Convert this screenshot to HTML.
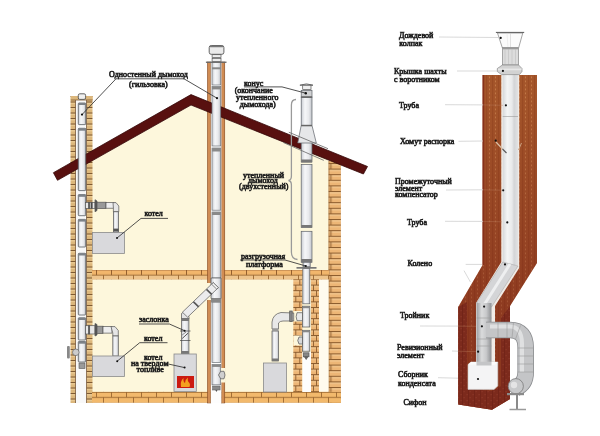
<!DOCTYPE html>
<html><head><meta charset="utf-8">
<style>
html,body{margin:0;padding:0;background:#fff;}
body{width:600px;height:436px;overflow:hidden;}
svg{display:block;filter:blur(0.5px);}
text{font-family:"Liberation Serif",serif;fill:#1e1e1e;stroke:#1e1e1e;stroke-width:0.6;font-size:8px;}
</style></head><body>
<svg width="600" height="436" viewBox="0 0 600 436">
<defs>
  <pattern id="brickV" x="0" y="96" width="22" height="11" patternUnits="userSpaceOnUse">
    <rect width="22" height="11" fill="#dcb77c"/>
    <rect y="1" width="22" height="1.5" fill="#e8c890"/>
    <rect y="6.5" width="22" height="1.5" fill="#e8c890"/>
    <rect y="0" width="22" height="1" fill="#7f5a32"/>
    <rect y="5.5" width="22" height="1" fill="#7f5a32"/>
  </pattern>
  <pattern id="brickW" x="328.4" y="163" width="12.5" height="11.2" patternUnits="userSpaceOnUse">
    <rect width="12.5" height="11.2" fill="#edb676"/>
    <rect y="1" width="12.5" height="1.5" fill="#f4c890"/>
    <rect y="6.6" width="12.5" height="1.5" fill="#f4c890"/>
    <rect y="0" width="12.5" height="1" fill="#8a5a2c"/>
    <rect y="5.6" width="12.5" height="1" fill="#8a5a2c"/>
    <rect x="2.2" y="0" width="0.9" height="5.6" fill="#8a5a2c"/>
    <rect x="0" y="0" width="0.8" height="11.2" fill="#8a5a2c"/>
  </pattern>
  <pattern id="brickC1" x="293.3" y="279" width="9" height="11.2" patternUnits="userSpaceOnUse">
    <rect width="9" height="11.2" fill="#edb676"/>
    <rect y="1" width="9" height="1.5" fill="#f4c890"/>
    <rect y="6.6" width="9" height="1.5" fill="#f4c890"/>
    <rect y="0" width="9" height="1" fill="#8a5a2c"/>
    <rect y="5.6" width="9" height="1" fill="#8a5a2c"/>
    <rect x="6" y="0" width="0.9" height="5.6" fill="#8a5a2c"/>
    <rect x="2" y="5.6" width="0.9" height="5.6" fill="#8a5a2c"/>
  </pattern>
  <pattern id="brickC2" x="311" y="279" width="8" height="11.2" patternUnits="userSpaceOnUse">
    <rect width="8" height="11.2" fill="#edb676"/>
    <rect y="1" width="8" height="1.5" fill="#f4c890"/>
    <rect y="6.6" width="8" height="1.5" fill="#f4c890"/>
    <rect y="0" width="8" height="1" fill="#8a5a2c"/>
    <rect y="5.6" width="8" height="1" fill="#8a5a2c"/>
    <rect x="5" y="0" width="0.9" height="5.6" fill="#8a5a2c"/>
    <rect x="2" y="5.6" width="0.9" height="5.6" fill="#8a5a2c"/>
  </pattern>
  <pattern id="brickH" x="0" y="391.8" width="30" height="11" patternUnits="userSpaceOnUse">
    <rect width="30" height="11" fill="#f2b96c"/>
    <rect y="0" width="30" height="0.9" fill="#9a6630"/>
    <rect y="5.2" width="30" height="0.9" fill="#9a6630"/>
    <rect x="6" y="0" width="0.9" height="5.5" fill="#9a6630"/>
    <rect x="21" y="0" width="0.9" height="5.5" fill="#9a6630"/>
    <rect x="13" y="5.5" width="0.9" height="5.5" fill="#9a6630"/>
    <rect x="28" y="5.5" width="0.9" height="5.5" fill="#9a6630"/>
  </pattern>
  <pattern id="brickH2" x="0" y="270" width="30" height="9.5" patternUnits="userSpaceOnUse">
    <rect width="30" height="9.5" fill="#f2b66c"/>
    <rect y="5" width="30" height="4.5" fill="#eec48c"/>
    <rect y="0" width="30" height="0.7" fill="#c08850"/>
    <rect y="4.6" width="30" height="0.9" fill="#9a6630"/>
    <rect x="6" y="0" width="0.9" height="5" fill="#8a5628"/>
    <rect x="21" y="0" width="0.9" height="5" fill="#8a5628"/>
    <rect x="13" y="5" width="0.9" height="4.5" fill="#9a6630"/>
    <rect x="28" y="5" width="0.9" height="4.5" fill="#9a6630"/>
  </pattern>
  <pattern id="brickR" x="0" y="0" width="6" height="4" patternUnits="userSpaceOnUse">
    <rect width="6" height="4" fill="#a4552a"/>
    <rect x="0" y="0" width="1.2" height="4" fill="#9a4c24"/>
    <rect x="3" y="0.5" width="1" height="1.8" fill="#c27846"/>
  </pattern>
  <pattern id="brickRd" x="0" y="0" width="6" height="6" patternUnits="userSpaceOnUse">
    <rect width="6" height="6" fill="#7c2a1c"/>
    <rect x="0" y="0" width="1" height="6" fill="#722418"/>
    <rect x="1.5" y="1" width="1.2" height="1.2" fill="#8c3828"/>
    <rect x="4.5" y="4" width="1.2" height="1.2" fill="#8c3828"/>
  </pattern>
  <linearGradient id="shadeG" x1="0" y1="90" x2="0" y2="330" gradientUnits="userSpaceOnUse">
    <stop offset="0" stop-color="#6a1010" stop-opacity="0"/>
    <stop offset="1" stop-color="#6a1010" stop-opacity="0.42"/>
  </linearGradient>
  <linearGradient id="pipeG" x1="0" x2="1" y1="0" y2="0">
    <stop offset="0" stop-color="#c9ccd2"/>
    <stop offset="0.35" stop-color="#f6f7f9"/>
    <stop offset="0.7" stop-color="#e8e9ec"/>
    <stop offset="1" stop-color="#bfc2c8"/>
  </linearGradient>
  <linearGradient id="pipeR" x1="0" x2="1" y1="0" y2="0">
    <stop offset="0" stop-color="#d6d8da"/>
    <stop offset="0.3" stop-color="#f4f5f5"/>
    <stop offset="0.6" stop-color="#e9eaeb"/>
    <stop offset="0.75" stop-color="#d4d5d7"/>
    <stop offset="1" stop-color="#e2e3e4"/>
  </linearGradient>
  <linearGradient id="pipeR2" x1="0" x2="1" y1="0" y2="0">
    <stop offset="0" stop-color="#9c9ea1"/>
    <stop offset="0.35" stop-color="#dadbdc"/>
    <stop offset="0.65" stop-color="#c8c9cb"/>
    <stop offset="1" stop-color="#8e9093"/>
  </linearGradient>
</defs>

<!-- ================= LEFT: HOUSE ================= -->
<!-- cream interior -->
<polygon points="92,161 191,105 329,160.2 329,392 92,392" fill="#fdf7dc"/>

<!-- left wall bricks -->
<rect x="70.5" y="96" width="22" height="307" fill="url(#brickV)"/>
<rect x="75.6" y="96" width="11" height="307" fill="#f8f8f8"/>
<rect x="75" y="100" width="0.7" height="303" fill="#6a4a2a"/>
<rect x="86.2" y="100" width="0.7" height="303" fill="#6a4a2a"/>
<rect x="70.8" y="96" width="21.8" height="4" fill="#dcb77c"/>
<rect x="70.8" y="99.6" width="21.8" height="0.8" fill="#7f5a32"/>
<!-- right wall bricks -->
<rect x="328.4" y="161" width="12.5" height="242" fill="url(#brickW)"/>
<!-- lower right: brick columns around insulated pipe -->
<rect x="293.3" y="279" width="9" height="113" fill="url(#brickC1)"/>
<rect x="311" y="279" width="8" height="113" fill="url(#brickC2)"/>
<rect x="319" y="279" width="9.5" height="113" fill="#fffbee"/>

<!-- floors -->
<rect x="92" y="270" width="237" height="9.5" fill="url(#brickH2)"/>
<rect x="92" y="391.8" width="248.9" height="11" fill="url(#brickH)"/>

<!-- middle chimney brown strips -->
<rect x="207.4" y="62" width="3.4" height="341" fill="#c47a40" stroke="#7a4520" stroke-width="0.5"/>
<rect x="221.4" y="62" width="3.4" height="341" fill="#c47a40" stroke="#7a4520" stroke-width="0.5"/>
<rect x="208.4" y="62" width="1.2" height="341" fill="#d89860"/>
<rect x="222.4" y="62" width="1.2" height="341" fill="#d89860"/>
<rect x="210.8" y="62" width="10.6" height="341" fill="#fdfdfd"/>

<!-- roof -->
<polygon points="53.4,172.7 191,94.6 367.5,166.5 363.4,174 191,105 57.5,180.3" fill="#58100f" stroke="#350808" stroke-width="0.8" stroke-linejoin="miter"/>

<!-- left pipe (single wall) segments -->
<g fill="url(#pipeG)" stroke="#555a60" stroke-width="0.8">
  <rect x="78.3" y="103" width="7.4" height="21.6" rx="0.8"/>
  <rect x="78.3" y="128.3" width="7.4" height="62.3" rx="0.8"/>
  <rect x="78.3" y="194.6" width="7.4" height="21.1" rx="0.8"/>
  <rect x="78.3" y="219.4" width="7.4" height="27.6" rx="0.8"/>
  <rect x="78.3" y="253.3" width="7.4" height="61.7" rx="0.8"/>
  <rect x="78.3" y="317.8" width="7.4" height="22.2" rx="0.8"/>
  <rect x="78.3" y="341.5" width="7.4" height="20.5" rx="0.8"/>
</g>
<g fill="#7d8288">
  <rect x="78.3" y="103" width="7.4" height="2"/>
  <rect x="78.3" y="128.3" width="7.4" height="2.4"/>
  <rect x="78.3" y="194.6" width="7.4" height="2.2"/>
  <rect x="78.3" y="219.4" width="7.4" height="2.2"/>
  <rect x="78.3" y="253.3" width="7.4" height="2.2"/>
  <rect x="78.3" y="317.8" width="7.4" height="2.2"/>
  <rect x="78.3" y="341.5" width="7.4" height="2.2"/>
</g>
<rect x="78.3" y="93.8" width="7.3" height="5.6" rx="1.5" fill="#f0f0f0" stroke="#555" stroke-width="0.9"/>
<rect x="79" y="363" width="6" height="5.5" fill="#9a9a9a" stroke="#555" stroke-width="0.6"/>
<!-- revision door on left wall -->
<rect x="67" y="346" width="2.8" height="12.5" fill="#888" rx="1"/>
<circle cx="75.8" cy="352.3" r="3.3" fill="#ccc" stroke="#666" stroke-width="0.7"/>

<!-- upper connection: tee -> corrugated -> elbow -> boiler -->
<g stroke="#555" stroke-width="0.7">
  <rect x="85.5" y="202.4" width="9.5" height="6" fill="#e8e8e8"/>
  <rect x="88.5" y="202.4" width="1.2" height="6" fill="#444"/>
  <rect x="91" y="202.4" width="1.2" height="6" fill="#444"/>
  <polygon points="95,199.7 97,201 97,210.5 95,211.8" fill="#555"/>
  <rect x="97" y="202.2" width="9" height="6.4" fill="#999"/>
  <rect x="106" y="202.6" width="8" height="5.6" fill="#eee"/>
  <polygon points="113,202.6 116,202.6 118.8,206 118.8,211.8 113.4,211.8 113.4,208.2" fill="#e6e6e6"/>
  <rect x="113.4" y="211.8" width="5.2" height="20.5" fill="url(#pipeG)"/>
</g>
<rect x="113.4" y="228.6" width="5.2" height="3" fill="#555"/>
<!-- lower connection -->
<g stroke="#555" stroke-width="0.7">
  <rect x="85.5" y="325.7" width="9.5" height="8.3" fill="#e8e8e8"/>
  <rect x="88.5" y="325.7" width="1.2" height="8.3" fill="#444"/>
  <polygon points="95,323.5 97,324.5 97,335 95,336" fill="#555"/>
  <rect x="97" y="326.2" width="6" height="7.3" fill="#999"/>
  <rect x="103" y="326.6" width="9" height="6.5" fill="#eee"/>
  <polygon points="111,326.6 115,326.6 118.3,330.5 118.3,336 112.8,336 112.8,333" fill="#e6e6e6"/>
  <rect x="112.8" y="336" width="5.5" height="20" fill="url(#pipeG)"/>
</g>

<!-- middle chimney pipe -->
<g fill="url(#pipeG)" stroke="#6d7278" stroke-width="0.7">
  <rect x="212" y="62" width="8.7" height="23" />
  <rect x="212" y="86.6" width="8.7" height="59.4" />
  <rect x="212" y="148" width="8.7" height="62.2" />
  <rect x="212" y="212" width="8.7" height="66" />
  <rect x="212" y="281" width="8.7" height="20" />
  <rect x="212" y="302" width="8.7" height="60.4" />
  <rect x="212" y="364.6" width="8.7" height="20.2" />
</g>
<rect x="221" y="368" width="4.4" height="14.5" fill="#fdf7dc"/>
<path d="M220.7,371.3 L218.5,375 L220.7,378.8 L224,378.8 Q226,375 224,371.3 Z" fill="#cfcfcf" stroke="#555" stroke-width="0.7"/>
<rect x="212" y="364.6" width="8.7" height="2.3" fill="#888"/>
<rect x="212.6" y="386" width="7.5" height="4" fill="#8a8a8a" stroke="#555" stroke-width="0.5"/>
<path d="M215.3,390 L216.4,392 L217.5,390 Z" fill="#555"/>
<rect x="212" y="67.3" width="8.7" height="2" fill="#888"/>
<rect x="212" y="86.6" width="8.7" height="2.8" fill="#888"/>
<rect x="212" y="148" width="8.7" height="3.5" fill="#8a8a8a"/>
<rect x="212" y="212" width="8.7" height="3" fill="#8a8a8a"/>
<rect x="205.9" y="61.6" width="20.6" height="1.3" fill="#666"/>
<rect x="212.1" y="54.7" width="8.9" height="2.9" fill="#eee" stroke="#555" stroke-width="0.7"/>
<rect x="212.1" y="58.6" width="8.9" height="3" fill="#eee" stroke="#555" stroke-width="0.7"/>
<rect x="209.2" y="45.5" width="14.7" height="8.8" rx="2" fill="#ebebeb" stroke="#555" stroke-width="0.9"/>
<rect x="209.6" y="45.7" width="13.9" height="1.6" rx="0.8" fill="#777"/>
<!-- diagonal flue to solid fuel boiler -->
<rect x="206.8" y="283" width="4.6" height="17" fill="#fdf7dc"/>
<g stroke="#555" stroke-width="0.7">
  <polygon points="211,278 221,278 221,298.5 211,298.5" fill="url(#pipeG)"/>
  <polygon points="181.5,318 188.9,318 188.9,354 181.5,354" fill="url(#pipeG)"/>
  <path d="M181.5,318.5 L181.5,313.5 L184,311.8 L189,316.8 L189,318.5 Z" fill="#e4e4e4"/>
  <polygon points="213.2,282.6 218.4,287.6 187.6,317.2 182.4,312.2" fill="#ececed"/>
  <polygon points="213.2,282.6 218.4,287.6 216.8,289.2 211.6,284.2" fill="#f6f6f6"/>
</g>
<g stroke="#555" stroke-width="1.6">
  <line x1="206.5" y1="289.3" x2="211.7" y2="294.3"/>
  <line x1="193.5" y1="301.8" x2="198.7" y2="306.8"/>
</g>
<rect x="181.5" y="318.5" width="7.4" height="2.5" fill="#777"/>
<rect x="211" y="298.5" width="10" height="4" fill="#888"/>
<line x1="180" y1="331" x2="190.5" y2="331" stroke="#444" stroke-width="0.7"/>
<line x1="180" y1="340.5" x2="190.5" y2="340.5" stroke="#444" stroke-width="0.7"/>
<line x1="182.2" y1="338.5" x2="188.2" y2="333" stroke="#444" stroke-width="0.9"/>
<line x1="182.2" y1="335" x2="186" y2="332" stroke="#444" stroke-width="0.6"/>
<rect x="181.5" y="351" width="7.4" height="3" fill="#777"/>

<!-- right insulated pipe -->
<g fill="url(#pipeG)" stroke="#5d6268" stroke-width="0.7">
  <rect x="301.2" y="97" width="10.8" height="28.5" />
  <rect x="301.2" y="141" width="10.8" height="21" />
  <rect x="301.2" y="164.5" width="10.8" height="63" />
  <rect x="301.2" y="231.3" width="10.8" height="31" />
  <rect x="303" y="262.2" width="7.2" height="4.5" />
  <rect x="302.8" y="268.5" width="7" height="35.3" />
</g>
<rect x="301.2" y="90.5" width="10.8" height="7" fill="#cfd0d2" stroke="#5d6268" stroke-width="0.7"/>
<rect x="301.2" y="96.2" width="10.8" height="1.6" fill="#666"/>
<rect x="302.7" y="84.9" width="8.3" height="4.6" fill="#f0f0f0" stroke="#555" stroke-width="0.7"/>
<path d="M299.9,85.2 Q306.4,82.6 313,85.2 Z" fill="#ddd" stroke="#555" stroke-width="0.8"/>
<polygon points="301.2,125.5 312,125.5 316.3,143 297.7,143" fill="#e6e7e9" stroke="#5d6268" stroke-width="0.7"/>
<rect x="301.2" y="124.8" width="10.8" height="1.5" fill="#666"/>
<rect x="301.2" y="159.5" width="10.8" height="3" fill="#777"/>
<rect x="301.2" y="259" width="10.8" height="3.2" fill="#777"/>
<rect x="301.2" y="225" width="10.8" height="2.6" fill="#777"/>
<rect x="296.5" y="267" width="20" height="1.7" fill="#777"/>
<!-- tee for right wall boiler -->
<rect x="293.5" y="311" width="9" height="10.5" fill="#fdf7dc"/>
<rect x="293.5" y="335.5" width="9" height="10" fill="#fdf7dc"/>
<rect x="302.5" y="352" width="8.5" height="40" fill="#fdfdfd"/>
<g stroke="#555" stroke-width="0.7">
  <rect x="302.5" y="306.2" width="7.3" height="20.8" fill="url(#pipeG)"/>
  <path d="M302.5,312.7 L297,312.7 Q295.3,316.7 297,320.7 L302.5,320.7 Z" fill="#e8e8e8"/>
  <rect x="302.5" y="330.3" width="7.3" height="20.9" fill="url(#pipeG)"/>
  <path d="M302.5,337 L299,337 Q296.5,340.5 299,344 L302.5,344 Z" fill="#d8d8d8"/>
  <rect x="303.3" y="352.8" width="5.7" height="4" fill="#888"/>
  <path d="M304.5,356.8 L306.2,359.5 L307.8,356.8 Z" fill="#666"/>
</g>
<rect x="302.5" y="306.2" width="7.3" height="2" fill="#888"/>
<rect x="302.5" y="330.3" width="7.3" height="2" fill="#888"/>
<!-- elbow from wall boiler -->
<g stroke="#555" stroke-width="0.7">
  <path d="M293.7,313 L281,312.5 Q273,314 272,322 L272,329 L278.5,329 L278.5,323 Q280,321 283,321 L293.7,321 Z" fill="#e8e8e8"/>
  <rect x="272" y="331" width="6.5" height="30" fill="url(#pipeG)"/>
  <rect x="289.7" y="311" width="2.5" height="10.5" fill="#888"/>
</g>
<rect x="272" y="328.7" width="6.5" height="2.5" fill="#999"/>
<rect x="272" y="358.5" width="6.5" height="2.5" fill="#777"/>
<!-- bracket line -->
<path d="M296,99.5 Q291.4,99.5 291.4,105 L291.4,176 Q291.4,180 288.5,180.5 Q291.4,181 291.4,185 L291.4,252 Q291.4,259 297.5,259.5" fill="none" stroke="#9a9a9a" stroke-width="1.3"/>

<!-- roof flashing lines near right pipe -->
<line x1="288.8" y1="132.2" x2="328" y2="148.7" stroke="#666" stroke-width="0.8"/>
<line x1="283.3" y1="142.5" x2="323.8" y2="160.4" stroke="#666" stroke-width="0.8"/>

<!-- boilers -->
<rect x="92.5" y="232.4" width="32" height="21" fill="#d9d9dc" stroke="#8a8a8a" stroke-width="0.8"/>
<rect x="92.5" y="356" width="32" height="20.5" fill="#d9d9dc" stroke="#8a8a8a" stroke-width="0.8"/>
<rect x="174" y="354" width="22.3" height="37.5" fill="#d9d9dc" stroke="#8a8a8a" stroke-width="0.8"/>
<rect x="177" y="376" width="17" height="12" fill="#cc1a10"/>
<path d="M181,387 Q180,381 183.5,378 Q183,382 185,383 Q185.5,379 188,377.5 Q187,381 189.5,383 Q190.5,385 189.5,387 Z" fill="#f4a020"/>
<rect x="263.4" y="363" width="23" height="29" fill="#d9d9dc" stroke="#8a8a8a" stroke-width="0.8"/>

<!-- leader lines (left) -->
<g stroke="#333" stroke-width="0.85" fill="none">
  <polyline points="82,114.6 116,78.8 184,78.8 217,98.2"/>
  <polyline points="244,86.9 282,86.9 305.8,93.2"/>
  <polyline points="240,260 285,260 305.8,266"/>
  <polyline points="168,218.4 141,218.4 117,238"/>
  <polyline points="139,324 169.4,324 184.6,330.7"/>
  <polyline points="167.5,342.7 139.7,342.7 117.2,361.2"/>
  <polyline points="166,363.5 184.6,367.6"/>
</g>
<g fill="#111">
  <circle cx="82" cy="114.6" r="1.1"/>
  <circle cx="217" cy="98.2" r="1.1"/>
  <circle cx="305.8" cy="93.2" r="1.2"/>
  <circle cx="305.8" cy="266" r="1.1"/>
  <circle cx="117" cy="238" r="1"/>
  <circle cx="184.6" cy="330.7" r="1"/>
  <circle cx="117.2" cy="361.2" r="1"/>
  <circle cx="184.6" cy="367.6" r="1"/>
</g>

<!-- ================= RIGHT: CHIMNEY SHAFT ================= -->
<polygon points="482.6,75 537,75 537,263 510,306 510,399 492,409.7 458.2,404.4 458.2,307 482.6,265" fill="url(#brickR)"/>
<polygon points="482.6,75 537,75 537,263 510,306 510,399 492,409.7 458.2,404.4 458.2,307 482.6,265" fill="url(#shadeG)"/>
<!-- lower front faces (darker) -->
<polygon points="458.2,307 467,302 467,388 491.4,391 501,386 501,318 510,306 510,399 492,409.7 458.2,404.4" fill="url(#brickRd)"/>
<rect x="482.6" y="75" width="1.6" height="190" fill="#86301a"/>
<!-- inner channel -->
<polygon points="501.3,75 519.2,75 519.2,268 495,306 495,362 476,362 476,303 501.3,262" fill="#f0ebe6"/>
<!-- pipe -->
<rect x="502.7" y="64" width="15.3" height="201" fill="url(#pipeR)"/>
<polygon points="502.7,262 518,266 491.5,307 476.5,303" fill="#d4d5d7" stroke="#a0a0a0" stroke-width="0.5"/>
<line x1="510" y1="264" x2="484" y2="305" stroke="#eeeff0" stroke-width="3"/>
<rect x="476.5" y="303" width="15" height="63" fill="url(#pipeR2)"/>
<g stroke="#9a9a9a" stroke-width="0.6">
<line x1="502.7" y1="116.5" x2="518" y2="116.5"/>
<line x1="476.5" y1="318" x2="491.5" y2="318"/>
<line x1="476.5" y1="339" x2="491.5" y2="339"/>
<line x1="476.5" y1="346" x2="491.5" y2="346"/>
</g>
<!-- condensate box -->
<polygon points="468,364.5 471,362 497.8,362 497.8,386 494,389.4 468,389.4" fill="#f4f4f5" stroke="#c8c8c8" stroke-width="0.6"/>
<polygon points="468,364.5 471,362 497.8,362 494.5,365" fill="#fbfbfb"/>
<rect x="476.5" y="362" width="15" height="3.5" fill="#c4c5c7"/>
<!-- tee branch & elbow to siphon -->
<path d="M486,330 L510,330 Q525.7,330 525.7,348 L525.7,372 Q525.7,384 516,388" fill="none" stroke="#8a8c8f" stroke-width="16.6"/>
<path d="M486,330 L510,330 Q525.7,330 525.7,348 L525.7,372 Q525.7,384 516,388" fill="none" stroke="#c4c5c7" stroke-width="15"/>
<path d="M490,326.5 L510,326.5 Q521.5,327 522,343 L522,372" fill="none" stroke="#dfe0e1" stroke-width="4"/>
<g stroke="#9a9a9a" stroke-width="0.6">
<line x1="498" y1="322" x2="498" y2="338"/>
<line x1="507" y1="322" x2="507" y2="338"/>
<line x1="513.5" y1="322.5" x2="512" y2="338"/>
<line x1="520.5" y1="325.5" x2="515.5" y2="339"/>
<line x1="517.5" y1="348" x2="534" y2="348"/>
<line x1="517.5" y1="356" x2="534" y2="356"/>
<line x1="517.5" y1="364" x2="534" y2="364"/>
<line x1="517.5" y1="372" x2="534" y2="372"/>
</g>
<circle cx="515.8" cy="386.2" r="7.6" fill="#c8c9cb" stroke="#7a7a7a" stroke-width="0.8"/>
<circle cx="514" cy="385" r="3.2" fill="#e4e4e5"/>
<rect x="507" y="393" width="17" height="2.2" fill="#8a8a8a"/>
<line x1="517" y1="395" x2="517" y2="409" stroke="#8a8a8a" stroke-width="2"/>
<line x1="509.5" y1="409.5" x2="526" y2="409.5" stroke="#9a9a9a" stroke-width="1.5"/>

<!-- rain cap -->
<line x1="495.9" y1="32.4" x2="524.2" y2="32.4" stroke="#555" stroke-width="1"/>
<polygon points="497.5,33 522.8,33 518.6,48 502.4,48" fill="#fbfbfb" stroke="#6a6a6a" stroke-width="0.6"/>
<line x1="510.5" y1="33" x2="510.5" y2="48" stroke="#c4c4c4" stroke-width="0.5"/>
<line x1="507" y1="33" x2="508" y2="48" stroke="#dadada" stroke-width="0.4"/>
<rect x="502.4" y="47.7" width="16.2" height="17.3" fill="#dcdcdc" stroke="#7a7a7a" stroke-width="0.6"/>
<rect x="502.4" y="47.7" width="16.2" height="1.6" fill="#9a9a9a"/>
<g stroke="#b8b8b8" stroke-width="0.5">
<line x1="505" y1="49" x2="505" y2="65"/>
<line x1="508.5" y1="49" x2="508.5" y2="65"/>
<line x1="512" y1="49" x2="512" y2="65"/>
<line x1="515.5" y1="49" x2="515.5" y2="65"/>
</g>
<polygon points="502.4,65 518.6,65 522,68.5 522,71.5 519.5,74.6 501.5,74.6 497.3,71.5 497.3,68.5" fill="#d2d2d2" stroke="#7a7a7a" stroke-width="0.6"/>
<rect x="498" y="68.6" width="23.5" height="1.6" fill="#e8e8e8"/>

<!-- clamp (хомут) -->
<line x1="496" y1="142" x2="502.5" y2="149" stroke="#d8c0a8" stroke-width="1.2"/>
<line x1="502.5" y1="149" x2="506.5" y2="153" stroke="#555" stroke-width="1.1"/>
<line x1="521.5" y1="143" x2="518.5" y2="150" stroke="#c9a080" stroke-width="1"/>

<!-- leader lines (right) -->
<g stroke="#cfcfcf" stroke-width="0.8">
  <line x1="439" y1="37" x2="498" y2="37.5"/>
  <line x1="457" y1="71" x2="497" y2="71"/>
  <line x1="445" y1="104.7" x2="483" y2="104.9"/>
  <line x1="458.5" y1="141.3" x2="483" y2="141"/>
  <line x1="446" y1="190" x2="483" y2="189.8"/>
  <line x1="445" y1="221.3" x2="483" y2="221.4"/>
  <line x1="465.7" y1="264.4" x2="482" y2="264.4"/>
  <line x1="464" y1="270.6" x2="470.4" y2="282"/>
  <line x1="420" y1="326" x2="458" y2="326.1"/>
  <line x1="452" y1="351" x2="458" y2="351.2"/>
  <line x1="438" y1="377.7" x2="458" y2="378.2"/>
</g>
<g stroke="#b87a5a" stroke-width="0.6" opacity="0.7">
  <line x1="483" y1="104.9" x2="503" y2="105.3"/>
  <line x1="483" y1="189.8" x2="502" y2="190.2"/>
  <line x1="483" y1="221.4" x2="502" y2="221.8"/>
  <line x1="458" y1="326.1" x2="476" y2="326.3"/>
  <line x1="458" y1="351.2" x2="476" y2="351.6"/>
</g>
<g fill="#111">
  <circle cx="500.7" cy="37.9" r="1.1"/>
  <circle cx="502.9" cy="70.9" r="1.1"/>
  <circle cx="505.9" cy="105.3" r="1.1"/>
  <circle cx="495.7" cy="140.7" r="1.1"/>
  <circle cx="503.2" cy="190.3" r="1.1"/>
  <circle cx="507.3" cy="222.4" r="1.1"/>
  <circle cx="505" cy="264.4" r="1.1"/>
  <circle cx="484.1" cy="306.6" r="1.1"/>
  <circle cx="481.9" cy="326.3" r="1.1"/>
  <circle cx="478.1" cy="351.7" r="1.1"/>
  <circle cx="478" cy="379" r="1.1"/>
</g>

<!-- ================= TEXT ================= -->
<text transform="translate(109 77) scale(1 1.06)">Одностенный дымоход</text>
<text transform="translate(129 87) scale(1 1.06)">(гильзовка)</text>
<text transform="translate(244 85.8) scale(1 1.06)">конус</text>
<text transform="translate(234.7 93) scale(1 1.06)">(окончание</text>
<text transform="translate(236 100) scale(1 1.06)">утепленного</text>
<text transform="translate(239.7 106.5) scale(1 1.06)">дымохода)</text>
<text transform="translate(243 177.5) scale(1 1.06)">утепленный</text>
<text transform="translate(248 183) scale(1 1.06)">дымоход</text>
<text transform="translate(239 189) scale(1 1.06)">(двухстенный)</text>
<text transform="translate(241 258.5) scale(1 1.06)">разгрузочная</text>
<text transform="translate(246 267) scale(1 1.06)">платформа</text>
<text transform="translate(144.4 216.3) scale(1 1.06)">котел</text>
<text transform="translate(139 322) scale(1 1.06)">заслонка</text>
<text transform="translate(144 341) scale(1 1.06)">котел</text>
<text transform="translate(144 360) scale(1 1.06)">котел</text>
<text transform="translate(131 365.8) scale(1 1.06)">на твердом</text>
<text transform="translate(136.5 371.6) scale(1 1.06)">топливе</text>

<text transform="translate(399 37.9) scale(1 1.06)">Дождевой</text>
<text transform="translate(399.3 45.6) scale(1 1.06)">колпак</text>
<text transform="translate(394 73.9) scale(1 1.06)">Крышка шахты</text>
<text transform="translate(394 81.6) scale(1 1.06)">с воротником</text>
<text transform="translate(399 107.5) scale(1 1.06)">Труба</text>
<text transform="translate(400 143.9) scale(1 1.06)">Хомут распорка</text>
<text transform="translate(395 183.7) scale(1 1.06)">Промежуточный</text>
<text transform="translate(395 190.6) scale(1 1.06)">элемент</text>
<text transform="translate(395 197.1) scale(1 1.06)">компенсатор</text>
<text transform="translate(407 224.5) scale(1 1.06)">Труба</text>
<text transform="translate(407.5 265.9) scale(1 1.06)">Колено</text>
<text transform="translate(400 318.1) scale(1 1.06)">Тройник</text>
<text transform="translate(397 350.1) scale(1 1.06)">Ревизионный</text>
<text transform="translate(397 357.6) scale(1 1.06)">элемент</text>
<text transform="translate(398 377.1) scale(1 1.06)">Сборник</text>
<text transform="translate(398 386.1) scale(1 1.06)">конденсата</text>
<text transform="translate(403.4 404.6) scale(1 1.06)">Сифон</text>
</svg>
</body></html>
